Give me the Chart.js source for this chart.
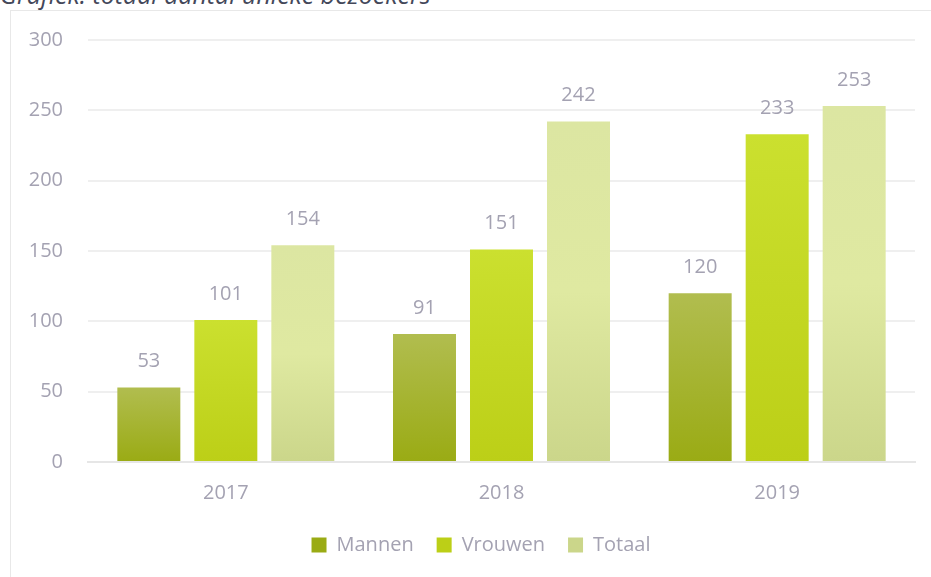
<!DOCTYPE html>
<html>
<head>
<meta charset="utf-8">
<script src="https://cdn.jsdelivr.net/npm/chart.js@4"></script>
<style>
    body { margin: 0; background: #fff; overflow: hidden; }
    .title {
        position: absolute; left: 0; top: -18px;
        font: italic 25px "Open Sans", sans-serif; line-height: 25px;
        color: #44485a; white-space: nowrap;
    }
    .box {
        position: absolute; left: 10px; top: 10px; width: 960px; height: 600px;
        border: 1px solid #e8e8e8; box-sizing: border-box;
    }
    .chart-wrap { position: absolute; left: 11px; top: 11px; width: 920px; height: 554px; }
</style>
</head>
<body>
<div class="title">Grafiek: totaal aantal unieke bezoekers</div>
<div class="box"></div>
<div class="chart-wrap"><canvas id="bezoekersChart"></canvas></div>
<script>
const years = ['2017', '2018', '2019'];
const mannen = [53, 91, 120];
const vrouwen = [101, 151, 233];
const totaal = [154, 242, 253];
const yTicks = [0, 50, 100, 150, 200, 250, 300];

const textColor = '#a4a2b2';
const fontFamily = '"Open Sans", sans-serif';

// gradient per bar, top -> bottom
const gradientFill = (stops, solid) => (ctx) => {
    if (ctx.type !== 'data') return solid;
    const chart = ctx.chart;
    if (!chart.chartArea) return solid;
    const yScale = chart.scales.y;
    const top = yScale.getPixelForValue(ctx.raw);
    const base = yScale.getPixelForValue(0);
    const g = chart.ctx.createLinearGradient(0, top, 0, base);
    stops.forEach((c, i) => g.addColorStop(i / (stops.length - 1), c));
    return g;
};

const valueLabels = {
    id: 'valueLabels',
    afterDatasetsDraw(chart) {
        const { ctx } = chart;
        ctx.save();
        ctx.font = `20px ${fontFamily}`;
        ctx.fillStyle = textColor;
        ctx.textAlign = 'center';
        ctx.textBaseline = 'middle';
        chart.data.datasets.forEach((ds, i) => {
            chart.getDatasetMeta(i).data.forEach((bar, j) => {
                ctx.fillText(ds.data[j], bar.x, bar.y - 26);
            });
        });
        ctx.restore();
    }
};

// legend sits a bit right of centre in the original
const legendShift = {
    id: 'legendShift',
    afterLayout(chart) {
        if (chart.legend) chart.legend.left += 36;
    }
};

new Chart(document.getElementById('bezoekersChart'), {
    type: 'bar',
    data: {
        labels: years,
        datasets: [
            {
                label: 'Mannen', data: mannen,
                backgroundColor: gradientFill(['#b1bd4f', '#9aab14'], '#a6b432'),
            },
            {
                label: 'Vrouwen', data: vrouwen,
                backgroundColor: gradientFill(['#cbe02f', '#bccf17'], '#c5da24'),
            },
            {
                label: 'Totaal', data: totaal,
                backgroundColor: gradientFill(['#dce6a2', '#dfe9a1', '#cbd68a'], '#dae49c'),
            },
        ]
    },
    options: {
        responsive: true,
        maintainAspectRatio: false,
        animation: false,
        categoryPercentage: 0.838,
        barPercentage: 0.818,
        layout: { padding: { left: 0, right: 16, top: 29, bottom: 0 } },
        plugins: {
            legend: {
                position: 'bottom',
                labels: {
                    color: textColor,
                    font: { family: fontFamily, size: 20 },
                    boxWidth: 15,
                    boxHeight: 15,
                    padding: 23,
                },
            },
            tooltip: { enabled: false },
        },
        scales: {
            x: {
                grid: { display: false, drawTicks: false },
                border: { color: '#e6e6e6', width: 2 },
                ticks: {
                    color: textColor,
                    font: { family: fontFamily, size: 20 },
                    padding: 19,
                },
                afterFit: (scale) => { scale.height = 50; },
            },
            y: {
                min: 0,
                max: 300,
                afterBuildTicks: (scale) => { scale.ticks = yTicks.map(v => ({ value: v })); },
                grid: { color: '#efefef', lineWidth: 2, drawTicks: false },
                border: { display: false },
                ticks: {
                    color: textColor,
                    font: { family: fontFamily, size: 20 },
                    padding: 25,
                },
                afterFit: (scale) => {
                    scale.width = 77;
                    scale.paddingTop = 0;
                    scale.paddingBottom = 0;
                },
            },
        },
    },
    plugins: [valueLabels, legendShift],
});
</script>
</body>
</html>
